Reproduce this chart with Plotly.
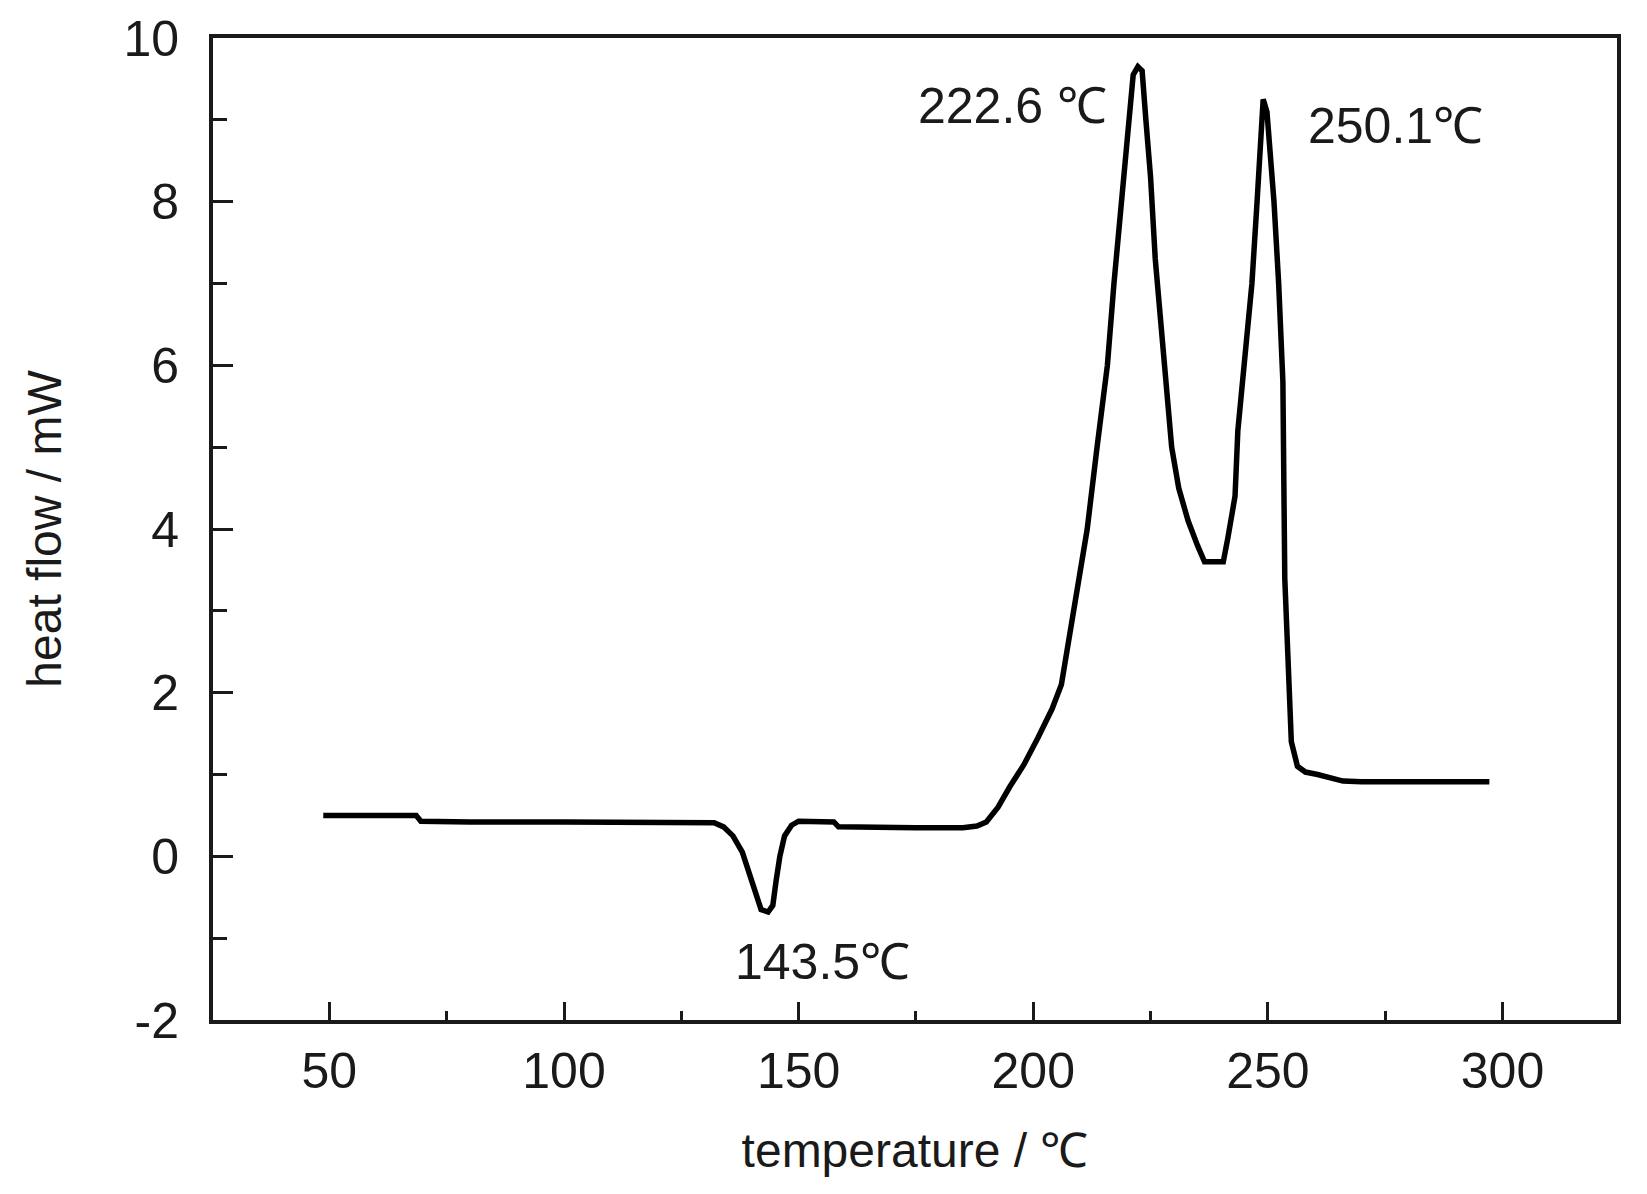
import plotly.graph_objects as go

# DSC curve
temperature = [48.7, 55, 62, 68.5, 69.5, 80, 100, 120, 130, 132, 134, 136, 138, 139.5, 141, 142,
               143.5, 144.5, 145.2, 146, 147, 148.5, 150, 155, 157.5, 158.5, 165, 175, 185, 188,
               190, 192.5, 195, 198, 201, 204, 206, 208.5, 210, 211.5, 213.6, 215.8, 217.2, 218.7,
               220.3, 221.3, 222.3, 223.2, 224, 225, 226, 227.2, 228.2, 229.5, 231, 233, 235, 236.5,
               238.3, 240.5, 241.5, 243, 243.6, 245, 246.6, 247.7, 248.5, 249.0, 249.8, 250.5,
               251.3, 252.3, 253.2, 253.6, 255.0, 256.3, 258, 260.6, 263, 266, 270, 280, 290, 297.2]
heat_flow = [0.50, 0.50, 0.50, 0.50, 0.43, 0.42, 0.42, 0.42, 0.42, 0.41, 0.36, 0.25, 0.05, -0.2, -0.5, -0.65,
             -0.68, -0.6, -0.3, 0.0, 0.25, 0.38, 0.43, 0.43, 0.42, 0.36, 0.35, 0.35, 0.35, 0.37,
             0.42, 0.6, 0.85, 1.12, 1.45, 1.8, 2.1, 3.0, 3.5, 4.0, 5.0, 6.0, 7.0, 8.0,
             9.0, 9.55, 9.65, 9.6, 9.0, 8.3, 7.3, 6.5, 5.9, 5.0, 4.5, 4.1, 3.8, 3.6,
             3.6, 3.6, 3.9, 4.4, 5.2, 6.0, 7.0, 8.0, 8.9, 9.25, 9.1, 8.6,
             8.0, 7.0, 5.8, 3.4, 1.4, 1.1, 1.03, 1.0, 0.97, 0.92, 0.91, 0.91, 0.91, 0.91]

peak_labels = ["222.6 ℃", "250.1℃", "143.5℃"]
peak_label_x = [195.5, 277.2, 155.0]
peak_label_y = [9.17, 8.92, -1.29]

x_ticks = [50, 100, 150, 200, 250, 300]
x_tick_text = ["50", "100", "150", "200", "250", "300"]
y_ticks = [-2, 0, 2, 4, 6, 8, 10]
y_tick_text = ["-2", "0", "2", "4", "6", "8", "10"]

FONT = "Liberation Sans, Arial, sans-serif"
INK = "#1a1a1a"

fig = go.Figure()
fig.add_trace(go.Scatter(x=temperature, y=heat_flow, mode="lines",
                         line=dict(color="black", width=5.5), showlegend=False))

for t, xx, yy in zip(peak_labels, peak_label_x, peak_label_y):
    fig.add_annotation(x=xx, y=yy, xref="x", yref="y", text=t, showarrow=False,
                       font=dict(family=FONT, size=50, color=INK))

axis_common = dict(showgrid=False, zeroline=False, showline=True, linecolor=INK, linewidth=4,
                   mirror=True, ticks="inside", tickcolor=INK, tickwidth=3,
                   tickfont=dict(family=FONT, size=50, color=INK))

fig.update_xaxes(range=[25.2, 324.4], tickvals=x_ticks, ticktext=x_tick_text, ticklen=18,
                 ticklabelstandoff=4,
                 minor=dict(ticks="inside", ticklen=9, tickwidth=3, tickcolor=INK, dtick=25, tick0=0),
                 title=dict(text="temperature / ℃", font=dict(family=FONT, size=48, color=INK), standoff=36),
                 **axis_common)
fig.update_yaxes(range=[-2, 10], tickvals=y_ticks, ticktext=y_tick_text, ticklen=20,
                 ticklabelstandoff=20,
                 minor=dict(ticks="inside", ticklen=14, tickwidth=3, tickcolor=INK, dtick=1, tick0=0),
                 title=dict(text="heat flow / mW", font=dict(family=FONT, size=48, color=INK), standoff=48),
                 **axis_common)

# page body has an 8px margin, so the figure is 8px smaller to fit the window
fig.update_layout(width=1639, height=1186, margin=dict(l=205, r=30, t=30, b=174, autoexpand=False),
                  plot_bgcolor="white", paper_bgcolor="white")

fig.write_html("out.html")
